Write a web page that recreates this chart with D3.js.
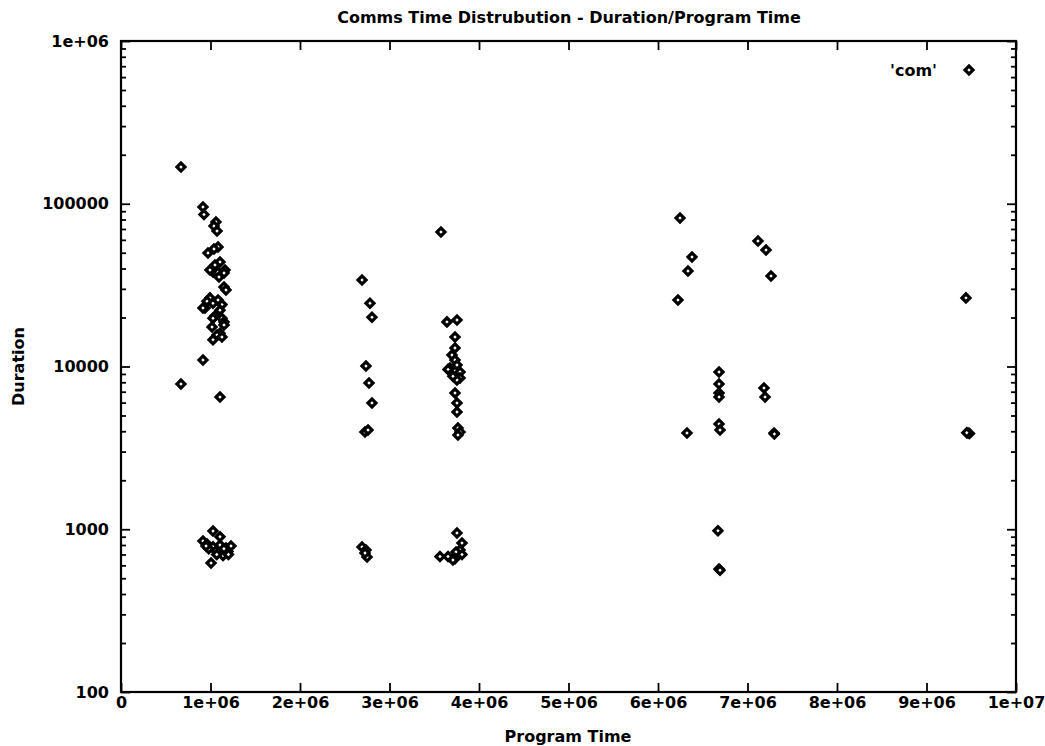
<!DOCTYPE html>
<html>
<head>
<meta charset="utf-8">
<script src="https://cdn.jsdelivr.net/npm/d3@7"></script>
<style>
  html, body { margin: 0; padding: 0; background: #fff; }
  svg text { font-family: "DejaVu Sans", "Liberation Sans", Arial, sans-serif; font-weight: bold; fill: #000; }
</style>
</head>
<body>
<svg id="chart" width="1045" height="746"></svg>
<script>
// Program time (x) and communication duration (y) samples for series 'com'
const programTime = [
  0.670e6, 0.916e6, 0.927e6, 1.061e6, 1.039e6, 1.073e6, 1.084e6, 0.972e6, 1.039e6, 1.106e6,
  1.050e6, 1.028e6, 1.084e6, 1.162e6, 1.095e6, 1.151e6, 1.173e6, 0.994e6, 0.961e6, 1.028e6,
  1.084e6, 1.128e6, 0.939e6, 1.106e6, 1.050e6, 1.128e6, 1.151e6, 1.017e6, 1.106e6, 1.073e6,
  0.994e6, 1.151e6, 1.128e6, 1.028e6, 0.916e6, 1.028e6, 1.151e6,
  0.916e6, 0.670e6, 1.106e6,
  1.028e6, 1.106e6, 0.916e6, 0.961e6, 1.028e6, 1.106e6, 1.173e6, 1.229e6, 1.061e6, 1.151e6,
  1.006e6, 1.195e6, 1.140e6, 0.980e6, 0.950e6, 1.070e6, 1.200e6, 1.150e6,
  2.693e6, 2.782e6, 2.804e6, 2.737e6, 2.771e6, 2.804e6, 2.726e6, 2.760e6,
  2.693e6, 2.749e6, 2.737e6, 2.726e6,
  3.575e6, 3.642e6, 3.754e6, 3.732e6, 3.732e6, 3.698e6, 3.732e6, 3.754e6, 3.676e6, 3.654e6,
  3.788e6, 3.788e6, 3.754e6, 3.709e6, 3.732e6, 3.754e6, 3.754e6, 3.765e6, 3.788e6, 3.765e6,
  3.754e6, 3.810e6, 3.788e6, 3.743e6, 3.564e6, 3.654e6, 3.732e6, 3.810e6, 3.709e6,
  6.246e6, 6.380e6, 6.335e6, 6.223e6, 6.324e6,
  6.682e6, 6.682e6, 6.682e6, 6.682e6, 6.682e6, 6.693e6, 6.670e6, 6.682e6, 6.693e6,
  7.117e6, 7.207e6, 7.263e6, 7.184e6, 7.196e6, 7.296e6, 7.300e6,
  9.441e6, 9.464e6, 9.480e6, 9.450e6
];
const duration = [
  168000, 95500, 86000, 77300, 73000, 68000, 54200, 49800, 52700, 43900,
  42000, 38100, 38000, 39200, 35500, 30800, 29500, 26400, 25200, 24500,
  25600, 24000, 22900, 22200, 20400, 19800, 18800, 17500, 16000, 15600,
  39200, 37500, 15200, 14600, 22900, 19800, 18000,
  10960, 7800, 6500,
  975, 900, 847, 811, 780, 800, 767, 789, 735, 715,
  620, 730, 690, 760, 790, 700, 700, 760,
  34000, 24500, 20100, 10070, 7920, 5970, 3960, 4070,
  778, 675, 746, 715,
  67000, 18800, 19300, 15200, 13000, 11770, 10960, 10200, 9800, 9600,
  9250, 8500, 8260, 8700, 6870, 5970, 5250, 4190, 3960, 3800,
  948, 823, 746, 725, 680, 680, 660, 700, 647,
  81700, 47100, 38600, 25600, 3900,
  9250, 7810, 6870, 6500, 4430, 4070, 980, 570, 560,
  59000, 52000, 36000, 7380, 6500, 3900, 3850,
  26400, 3900, 3880, 3920
];

const xTicks = [0, 1e6, 2e6, 3e6, 4e6, 5e6, 6e6, 7e6, 8e6, 9e6, 1e7];
const xTickLabels = ["0", "1e+06", "2e+06", "3e+06", "4e+06", "5e+06", "6e+06", "7e+06", "8e+06", "9e+06", "1e+07"];
const yTicks = [100, 1000, 10000, 100000, 1000000];
const yTickLabels = ["100", "1000", "10000", "100000", "1e+06"];

const titleText = "Comms Time Distrubution  - Duration/Program Time";
const xTitle = "Program Time";
const yTitle = "Duration";
const seriesName = "'com'";

const svg = d3.select("#chart");
const plotLeft = 121, plotRight = 1016, plotTop = 41, plotBottom = 692;

const x = d3.scaleLinear().domain([0, 1e7]).range([plotLeft, plotRight]);
const y = d3.scaleLog().domain([100, 1e6]).range([plotBottom, plotTop]);

// Minor log ticks (2..9 within each decade)
const yMinor = [];
for (let e = 2; e < 6; e++) for (let m = 2; m <= 9; m++) yMinor.push(m * Math.pow(10, e));

const fontFamily = "'DejaVu Sans', 'Liberation Sans', Arial, sans-serif";
const fontSize = 16;

// Bottom axis: inward ticks and labels
svg.append("g").attr("transform", `translate(0,${plotBottom})`)
  .call(d3.axisBottom(x).tickValues(xTicks).tickSize(-9).tickPadding(5)
    .tickFormat((d, i) => xTickLabels[i]));
// Top axis: inward ticks only
svg.append("g").attr("transform", `translate(0,${plotTop})`)
  .call(d3.axisTop(x).tickValues(xTicks).tickSize(-9).tickFormat(""));
// Left axis: major + minor inward ticks
svg.append("g").attr("transform", `translate(${plotLeft},0)`)
  .call(d3.axisLeft(y).tickValues(yTicks).tickSize(-9).tickPadding(12)
    .tickFormat((d, i) => yTickLabels[i]));
svg.append("g").attr("transform", `translate(${plotLeft},0)`)
  .call(d3.axisLeft(y).tickValues(yMinor).tickSize(-5).tickFormat(""));
// Right axis: major + minor inward ticks
svg.append("g").attr("transform", `translate(${plotRight},0)`)
  .call(d3.axisRight(y).tickValues(yTicks).tickSize(-9).tickFormat(""));
svg.append("g").attr("transform", `translate(${plotRight},0)`)
  .call(d3.axisRight(y).tickValues(yMinor).tickSize(-5).tickFormat(""));

svg.selectAll(".domain").remove();
svg.selectAll(".tick line").attr("stroke", "#000").attr("stroke-width", 1.8);
svg.selectAll(".tick text")
  .attr("fill", "#000")
  .style("font-size", fontSize + "px")
  .style("font-family", fontFamily)
  .style("font-weight", "bold");

// Plot frame
svg.append("rect")
  .attr("x", plotLeft).attr("y", plotTop)
  .attr("width", plotRight - plotLeft).attr("height", plotBottom - plotTop)
  .attr("fill", "none").attr("stroke", "#000").attr("stroke-width", 2.2);

// Titles
svg.append("text").attr("x", 569).attr("y", 23)
  .attr("text-anchor", "middle").style("font-size", "16px")
  .text(titleText);
svg.append("text").attr("x", 568).attr("y", 742)
  .attr("text-anchor", "middle").style("font-size", "16px")
  .text(xTitle);
svg.append("text").attr("transform", `translate(24,${(plotTop + plotBottom) / 2}) rotate(-90)`)
  .attr("text-anchor", "middle").style("font-size", "16px")
  .text(yTitle);

// Diamond marker
const diamond = d3.symbol().type(d3.symbolSquare).size(32);

const pts = programTime.map((t, i) => ({ t, d: duration[i] }));
svg.append("g").selectAll("path").data(pts).join("path")
  .attr("d", diamond)
  .attr("transform", p => `translate(${x(p.t)},${y(p.d)}) rotate(45)`)
  .attr("fill", "#fff").attr("stroke", "#000").attr("stroke-width", 3.2);

// Legend
svg.append("text").attr("x", 937).attr("y", 76)
  .attr("text-anchor", "end").style("font-size", "16px")
  .text(seriesName);
svg.append("path").attr("d", diamond)
  .attr("transform", "translate(969,70) rotate(45)")
  .attr("fill", "#fff").attr("stroke", "#000").attr("stroke-width", 3.2);
</script>
</body>
</html>
